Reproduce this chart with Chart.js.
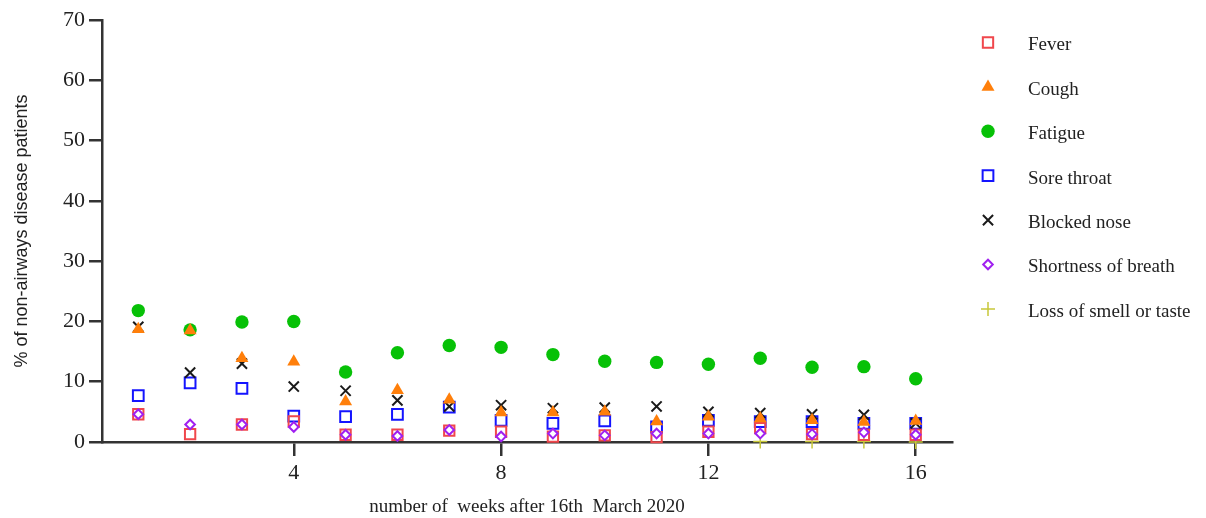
<!DOCTYPE html>
<html>
<head>
<meta charset="utf-8">
<title>Symptoms in non-airways disease patients by week</title>
<script src="https://cdn.jsdelivr.net/npm/chart.js@4/dist/chart.umd.min.js"></script>
<style>
  html, body { margin: 0; padding: 0; background: #ffffff; }
  #wrap { width: 1206px; height: 518px; position: relative; }
</style>
</head>
<body>
<div id="wrap"><canvas id="chart"></canvas></div>
<script>
// Weeks after 16th March 2020
const weeks = [1, 2, 3, 4, 5, 6, 7, 8, 9, 10, 11, 12, 13, 14, 15, 16];

// % of non-airways disease patients reporting each symptom
const fever        = [4.6, 1.3, 2.9, 3.4, 1.2, 1.2, 1.9, 1.7, 0.9, 1.1, 0.8, 1.7, 2.3, 1.3, 1.2, 1.2];
const cough        = [18.7, 18.5, 13.9, 13.3, 6.7, 8.6, 7.0, 4.9, 4.9, 5.0, 3.4, 4.2, 3.9, 3.6, 3.3, 3.5];
const fatigue      = [21.8, 18.6, 19.9, 20.0, 11.6, 14.8, 16.0, 15.7, 14.5, 13.4, 13.2, 12.9, 13.9, 12.4, 12.5, 10.5];
const soreThroat   = [7.7, 9.8, 8.9, 4.3, 4.2, 4.6, 5.8, 3.6, 3.1, 3.5, 2.5, 3.6, 3.4, 3.4, 3.1, 3.1];
const blockedNose  = [19.1, 11.5, 13.0, 9.2, 8.5, 6.9, 5.9, 6.1, 5.6, 5.7, 5.9, 5.0, 4.8, 4.6, 4.5, 3.1];
const breathless   = [4.6, 2.9, 2.9, 2.5, 1.2, 1.0, 2.0, 0.9, 1.4, 1.1, 1.4, 1.4, 1.4, 1.3, 1.6, 1.2];
const smellTaste   = [null, null, null, null, null, null, null, null, null, null, null, null, 0.1, 0.1, 0.1, 0.0];

const seriesNames = ['Fever', 'Cough', 'Fatigue', 'Sore throat', 'Blocked nose', 'Shortness of breath', 'Loss of smell or taste'];

const xTicks = [4, 8, 12, 16];
const yTicks = [0, 10, 20, 30, 40, 50, 60, 70];

const xTitle = 'number of  weeks after 16th  March 2020';
const yTitle = '% of non-airways disease patients';

function points(values) {
  const out = [];
  values.forEach((v, i) => { if (v !== null) out.push({ x: weeks[i], y: v }); });
  return out;
}

const SANS = '"Liberation Sans", Arial, sans-serif';
const SERIF = '"Liberation Serif", "Times New Roman", serif';
const INK = '#222222';
const AXIS = '#333333';

function series(label, values, style) {
  return Object.assign({
    label: label,
    data: points(values),
    showLine: false,
    clip: false
  }, style);
}

const datasets = [
  series(seriesNames[0], fever,       { pointStyle: 'rect',     pointRadius: 7.3, borderColor: '#f0474c', backgroundColor: 'rgba(0,0,0,0)', borderWidth: 2, order: 4 }),
  series(seriesNames[1], cough,       { pointStyle: 'triangle', pointRadius: 7.5, borderColor: '#ff7f0a', backgroundColor: '#ff7f0a', borderWidth: 0, order: 2 }),
  series(seriesNames[2], fatigue,     { pointStyle: 'circle',   pointRadius: 6.7, borderColor: '#07c107', backgroundColor: '#07c107', borderWidth: 0, order: 6 }),
  series(seriesNames[3], soreThroat,  { pointStyle: 'rect',     pointRadius: 7.6, borderColor: '#1414ff', backgroundColor: 'rgba(0,0,0,0)', borderWidth: 2, order: 5 }),
  series(seriesNames[4], blockedNose, { pointStyle: 'crossRot', pointRadius: 7.2, borderColor: '#1a1a1a', backgroundColor: '#1a1a1a', borderWidth: 2, order: 3 }),
  series(seriesNames[5], breathless,  { pointStyle: 'rectRot',  pointRadius: 4.8, borderColor: '#a020f0', backgroundColor: '#ffffff', borderWidth: 2, order: 1 }),
  series(seriesNames[6], smellTaste,  { pointStyle: 'cross',    pointRadius: 7,   borderColor: '#c8c83a', backgroundColor: '#c8c83a', borderWidth: 1.5, order: 7 })
];

// Legend drawn in the right-hand margin: marker column, then label column
const sideLegend = {
  id: 'sideLegend',
  afterDraw(chart) {
    const ctx = chart.ctx;
    const markerX = 988;
    const textX = 1028;
    const firstY = 42.5;
    const rowGap = 44.4;
    ctx.save();
    chart.data.datasets.forEach((ds, i) => {
      const y = firstY + i * rowGap;
      ctx.save();
      ctx.strokeStyle = ds.borderColor;
      ctx.fillStyle = ds.backgroundColor;
      ctx.lineWidth = ds.borderWidth;
      Chart.helpers.drawPoint(ctx, { pointStyle: ds.pointStyle, radius: ds.pointRadius, borderWidth: ds.borderWidth, rotation: 0 }, markerX, y);
      ctx.restore();
      ctx.fillStyle = INK;
      ctx.font = '19px ' + SERIF;
      ctx.textAlign = 'left';
      ctx.textBaseline = 'middle';
      ctx.fillText(ds.label, textX, y + 3);
    });
    ctx.restore();
  }
};

new Chart(document.getElementById('chart'), {
  type: 'scatter',
  data: { datasets: datasets },
  plugins: [sideLegend],
  options: {
    responsive: true,
    maintainAspectRatio: false,
    animation: false,
    events: [],
    layout: { padding: { left: 0, right: 254, top: 20, bottom: 0 } },
    plugins: {
      legend: { display: false },
      tooltip: { enabled: false }
    },
    scales: {
      x: {
        type: 'linear',
        min: 0.3,
        max: 16.7,
        afterBuildTicks: axis => { axis.ticks = xTicks.map(v => ({ value: v })); },
        afterFit: scale => { scale.height = 76; },
        border: { display: true, color: AXIS, width: 2.5 },
        grid: { display: true, drawOnChartArea: false, drawTicks: true, tickLength: 14, color: AXIS, lineWidth: 2.5 },
        ticks: { color: INK, font: { family: SERIF, size: 22 }, padding: 4, maxRotation: 0 },
        title: { display: true, text: xTitle, color: INK, font: { family: SERIF, size: 19 }, padding: { top: 0, bottom: 0 } }
      },
      y: {
        type: 'linear',
        min: 0,
        max: 70,
        afterBuildTicks: axis => { axis.ticks = yTicks.map(v => ({ value: v })); },
        afterFit: scale => { scale.width = 102; },
        border: { display: true, color: AXIS, width: 2.5 },
        grid: { display: true, drawOnChartArea: false, drawTicks: true, tickLength: 13, color: AXIS, lineWidth: 2.5 },
        ticks: { color: INK, font: { family: SERIF, size: 22 }, padding: 4 },
        title: { display: true, text: yTitle, color: INK, font: { family: SANS, size: 18 }, padding: { top: 11, bottom: 0 } }
      }
    }
  }
});
</script>
</body>
</html>
